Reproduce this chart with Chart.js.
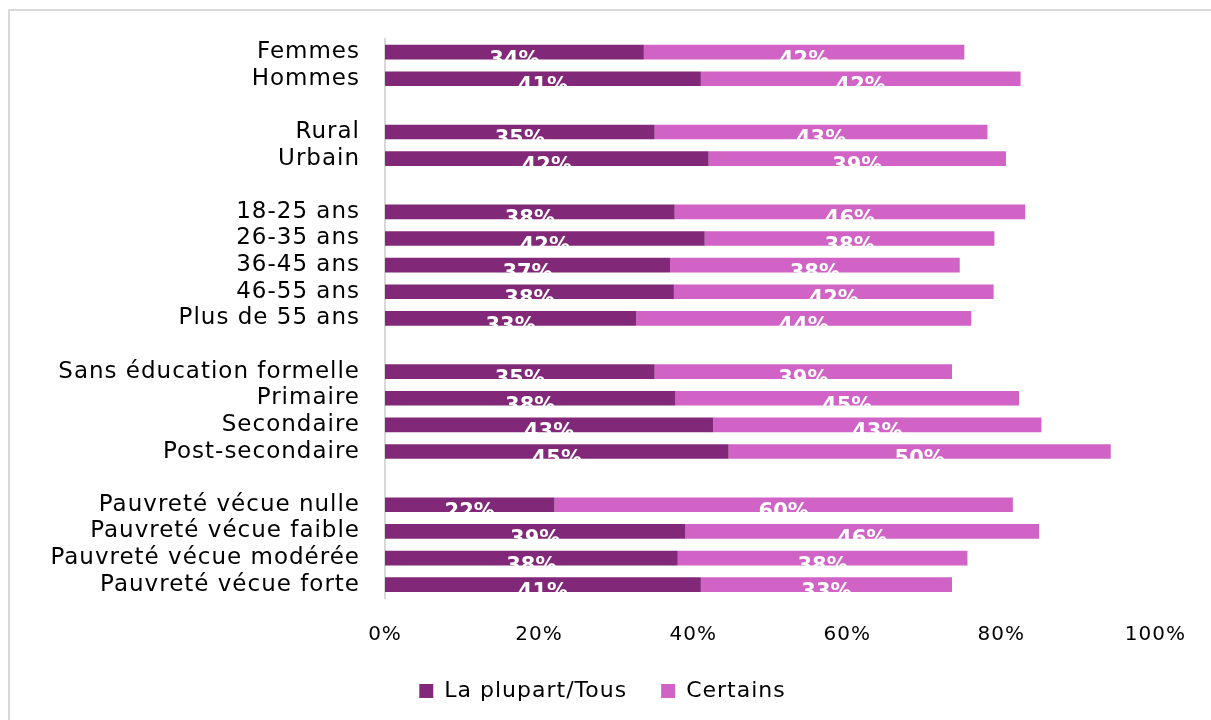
<!DOCTYPE html>
<html>
<head>
<meta charset="utf-8">
<script src="https://cdn.jsdelivr.net/npm/chart.js@4/dist/chart.umd.min.js"></script>
<style>
  html, body { margin: 0; padding: 0; background: #fff; overflow: hidden; }
  #frame { position: absolute; left: 8px; top: 9px; width: 1230px; height: 730px; border: 2px solid #d9d9d9; box-sizing: border-box; }
  #wrap { position: absolute; left: 0; top: 0; width: 1211px; height: 720px; }
</style>
</head>
<body>
<div id="frame"></div>
<div id="wrap"><canvas id="chart"></canvas></div>
<script>
// Categories (empty strings are the gaps between groups)
const categories = [
    'Femmes', 'Hommes', '',
    'Rural', 'Urbain', '',
    '18-25 ans', '26-35 ans', '36-45 ans', '46-55 ans', 'Plus de 55 ans', '',
    'Sans éducation formelle', 'Primaire', 'Secondaire', 'Post-secondaire', '',
    'Pauvreté vécue nulle', 'Pauvreté vécue faible', 'Pauvreté vécue modérée', 'Pauvreté vécue forte'
];

// Series values (%)
const plupartTous = [33.6, 41, null, 35, 42, null, 37.6, 41.5, 37, 37.5, 32.6, null, 35, 37.7, 42.6, 44.6, null, 22, 39, 38, 41];
const certains = [41.6, 41.5, null, 43.2, 38.6, null, 45.5, 37.6, 37.6, 41.5, 43.5, null, 38.6, 44.6, 42.6, 49.6, null, 59.5, 45.9, 37.6, 32.6];

const seriesNames = ['La plupart/Tous', 'Certains'];
const xTicks = [0, 20, 40, 60, 80, 100];

const fontFamily = '"DejaVu Sans", sans-serif';

// A little letter spacing to get closer to the original wide font
const spacing = {
    id: 'spacing',
    beforeLayout(chart) { chart.ctx.letterSpacing = '1px'; },
    beforeDraw(chart) { chart.ctx.letterSpacing = '1px'; }
};

// Draws the white value labels in the middle of every segment
const barLabels = {
    id: 'barLabels',
    afterDatasetsDraw(chart) {
        const ctx = chart.ctx;
        ctx.save();
        ctx.letterSpacing = '0px';
        ctx.fillStyle = '#ffffff';
        ctx.font = 'bold 21px ' + fontFamily;
        ctx.textAlign = 'center';
        ctx.textBaseline = 'middle';
        chart.data.datasets.forEach((ds, i) => {
            const meta = chart.getDatasetMeta(i);
            meta.data.forEach((bar, j) => {
                const v = ds.data[j];
                if (v == null) return;
                const cx = (bar.x + bar.base) / 2;
                ctx.fillText(Math.round(v) + '%', cx, bar.y + 8);
            });
        });
        ctx.restore();
    }
};

const ctx = document.getElementById('chart').getContext('2d');
new Chart(ctx, {
    type: 'bar',
    data: {
        labels: categories,
        datasets: [
            {
                label: seriesNames[0],
                data: plupartTous,
                backgroundColor: '#822878',
                barPercentage: 0.55,
                categoryPercentage: 1
            },
            {
                label: seriesNames[1],
                data: certains,
                backgroundColor: '#d063c5',
                barPercentage: 0.55,
                categoryPercentage: 1
            }
        ]
    },
    options: {
        indexAxis: 'y',
        responsive: true,
        maintainAspectRatio: false,
        animation: false,
        layout: { padding: { left: 45, right: 51, top: 38, bottom: 8 } },
        plugins: {
            tooltip: { enabled: false },
            legend: {
                position: 'bottom',
                labels: {
                    boxWidth: 14,
                    boxHeight: 14,
                    padding: 34,
                    color: '#000',
                    font: { family: fontFamily, size: 22 }
                }
            }
        },
        scales: {
            x: {
                stacked: true,
                min: 0,
                max: 100,
                afterBuildTicks: scale => { scale.ticks = xTicks.map(v => ({ value: v })); },
                afterFit: scale => { scale.height = 48; },
                grid: { display: false, drawTicks: false },
                border: { display: false },
                ticks: {
                    padding: 25,
                    color: '#000',
                    font: { family: fontFamily, size: 20 },
                    callback: v => v + '%'
                }
            },
            y: {
                stacked: true,
                afterFit: scale => { scale.width = 340; },
                grid: { display: false, drawTicks: false },
                border: { display: true, color: '#d9d9d9', width: 2 },
                ticks: {
                    padding: 25,
                    autoSkip: false,
                    color: '#000',
                    font: { family: fontFamily, size: 23 }
                }
            }
        }
    },
    plugins: [spacing, barLabels]
});
</script>
</body>
</html>
